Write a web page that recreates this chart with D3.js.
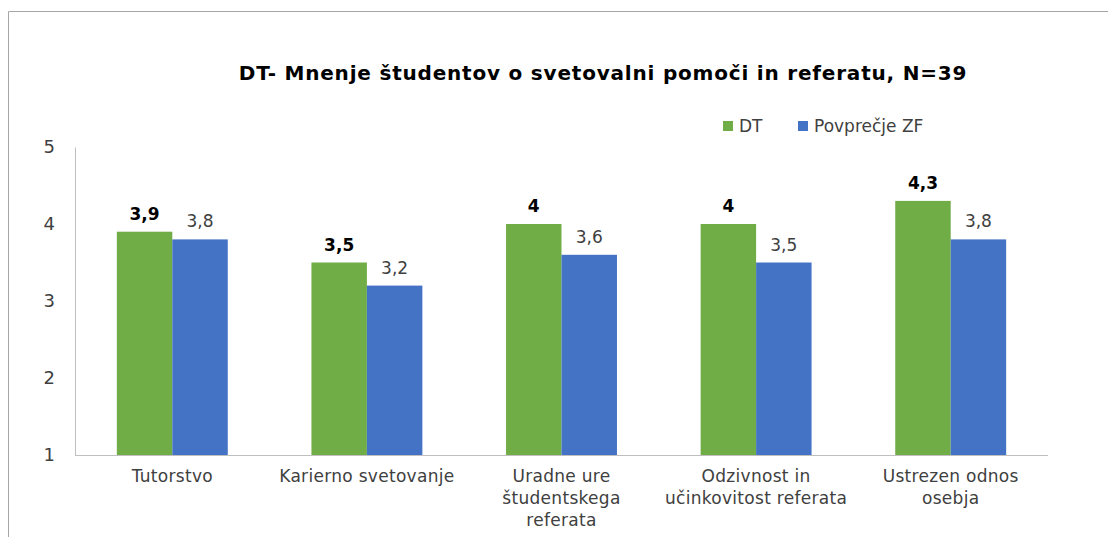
<!DOCTYPE html>
<html>
<head>
<meta charset="utf-8">
<script src="https://cdn.jsdelivr.net/npm/d3@7"></script>
<style>
  body { margin: 0; background: #fff; }
  svg { font-family: "DejaVu Sans", sans-serif; }
</style>
</head>
<body>
<svg id="chart"></svg>
<script>
// Data
let categories = [
    ['Tutorstvo'],
    ['Karierno svetovanje'],
    ['Uradne ure', 'študentskega', 'referata'],
    ['Odzivnost in', 'učinkovitost referata'],
    ['Ustrezen odnos', 'osebja']
]
let seriesNames = ['DT', 'Povprečje ZF']
let dtValues = [3.9, 3.5, 4, 4, 4.3]
let zfValues = [3.8, 3.2, 3.6, 3.5, 3.8]
let yTicks = [1, 2, 3, 4, 5]
let colors = ['#70AD47', '#4472C4']

// Dimensions
let width = 1108
let height = 537
let plot = { left: 75, right: 1048, top: 147, bottom: 455 }

let svg = d3.select('#chart')
    .attr('width', width)
    .attr('height', height)

// outer frame (top + left only visible)
svg.append('path')
    .attr('d', `M8.5,${height} V11.5 H${width}`)
    .attr('fill', 'none')
    .attr('stroke', '#a6a6a6')
    .attr('stroke-width', 1)

// Scales
let scale = {
    x: d3.scaleBand().domain(d3.range(categories.length)).range([plot.left, plot.right]).paddingInner(0.43).paddingOuter(0.215),
    y: d3.scaleLinear().domain([1, 5]).range([plot.bottom, plot.top])
}
let inner = d3.scaleBand().domain([0, 1]).range([0, scale.x.bandwidth()])

// Y axis
let yAxis = d3.axisLeft(scale.y).tickValues(yTicks).tickSize(0).tickPadding(20).tickFormat(d => d)
let gy = svg.append('g')
    .attr('transform', `translate(${plot.left},0)`)
    .call(yAxis)
gy.select('.domain').attr('stroke', '#bfbfbf')
gy.selectAll('text')
    .attr('font-size', 18)
    .attr('fill', '#404040')
    .attr('font-family', '"DejaVu Sans", sans-serif')

// Bars
let data = categories.map((c, i) => ({ i, values: [dtValues[i], zfValues[i]] }))
let groups = svg.selectAll('.group')
    .data(data)
    .enter()
    .append('g')
    .attr('transform', d => `translate(${scale.x(d.i)},0)`)

groups.selectAll('rect')
    .data(d => d.values.map((v, s) => ({ v, s })))
    .enter()
    .append('rect')
    .attr('x', d => inner(d.s))
    .attr('y', d => scale.y(d.v))
    .attr('width', inner.bandwidth())
    .attr('height', d => scale.y(1) - scale.y(d.v))
    .attr('fill', d => colors[d.s])

// Value labels
groups.selectAll('.val')
    .data(d => d.values.map((v, s) => ({ v, s })))
    .enter()
    .append('text')
    .attr('x', d => inner(d.s) + inner.bandwidth() / 2)
    .attr('y', d => scale.y(d.v) - 12)
    .attr('text-anchor', 'middle')
    .attr('font-size', 17)
    .attr('font-weight', d => d.s == 0 ? 'bold' : 'normal')
    .attr('fill', d => d.s == 0 ? '#000' : '#404040')
    .text(d => String(d.v).replace('.', ','))

// X axis line
svg.append('line')
    .attr('x1', plot.left)
    .attr('x2', plot.right)
    .attr('y1', plot.bottom + 0.5)
    .attr('y2', plot.bottom + 0.5)
    .attr('stroke', '#bfbfbf')

// Category labels
svg.selectAll('.cat')
    .data(categories)
    .enter()
    .append('text')
    .attr('text-anchor', 'middle')
    .attr('font-size', 17)
    .attr('letter-spacing', 0.3)
    .attr('fill', '#404040')
    .each(function(lines, i) {
        d3.select(this).selectAll('tspan')
            .data(lines)
            .enter()
            .append('tspan')
            .attr('x', scale.x(i) + scale.x.bandwidth() / 2)
            .attr('y', (d, k) => 482 + k * 22)
            .text(d => d)
    })

// Title
svg.append('text')
    .attr('x', 603)
    .attr('y', 80)
    .attr('text-anchor', 'middle')
    .attr('font-size', 20)
    .attr('letter-spacing', 0.8)
    .attr('font-weight', 'bold')
    .attr('fill', '#000')
    .text('DT- Mnenje študentov o svetovalni pomoči in referatu, N=39')

// Legend
let legendX = [723, 798]
let legend = svg.selectAll('.legend')
    .data(seriesNames)
    .enter()
    .append('g')
    .attr('transform', (d, i) => `translate(${legendX[i]},121)`)
legend.append('rect')
    .attr('width', 10)
    .attr('height', 10)
    .attr('fill', (d, i) => colors[i])
legend.append('text')
    .attr('x', 16)
    .attr('y', 11)
    .attr('font-size', 17)
    .attr('fill', '#404040')
    .text(d => d)
</script>
</body>
</html>
